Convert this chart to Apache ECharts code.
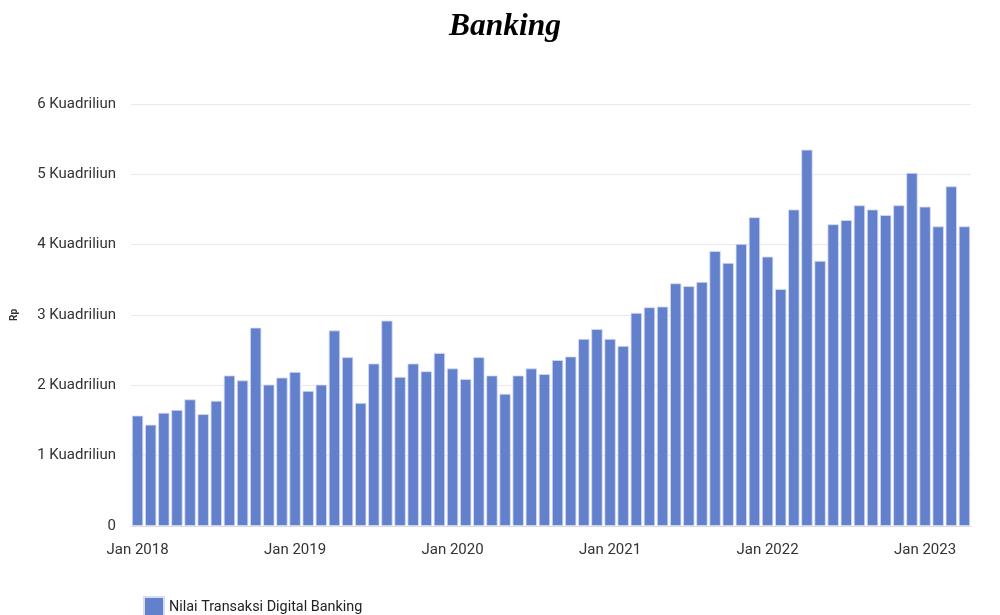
<!DOCTYPE html>
<html><head><meta charset="utf-8">
<script src="https://cdn.jsdelivr.net/npm/echarts@6/dist/echarts.min.js"></script>
<style>html,body{margin:0;padding:0;background:#fff}#c{width:1000px;height:615px}</style>
</head><body><div id="c"></div>
<script>
const monthNames = ['Jan','Feb','Mar','Apr','May','Jun','Jul','Aug','Sep','Oct','Nov','Dec'];
const years = [2018, 2019, 2020, 2021, 2022, 2023];
const categories = [];
years.forEach(y => monthNames.forEach(m => categories.push(m + ' ' + y)));
categories.length = 64; // Jan 2018 - Apr 2023

const values = [
  1.57, 1.44, 1.61, 1.65, 1.80, 1.59, 1.78, 2.14, 2.07, 2.82, 2.01, 2.11,
  2.19, 1.92, 2.01, 2.78, 2.40, 1.75, 2.31, 2.92, 2.12, 2.31, 2.20, 2.46,
  2.24, 2.09, 2.40, 2.14, 1.88, 2.14, 2.24, 2.16, 2.36, 2.41, 2.66, 2.80,
  2.66, 2.56, 3.03, 3.11, 3.12, 3.45, 3.41, 3.47, 3.91, 3.74, 4.01, 4.39,
  3.83, 3.37, 4.50, 5.35, 3.77, 4.29, 4.35, 4.56, 4.50, 4.42, 4.56, 5.02,
  4.54, 4.26, 4.83, 4.26
];

const yTickLabels = ['0', '1 Kuadriliun', '2 Kuadriliun', '3 Kuadriliun', '4 Kuadriliun', '5 Kuadriliun', '6 Kuadriliun'];
const seriesName = 'Nilai Transaksi Digital Banking';
const titleText = 'Banking';

const chart = echarts.init(document.getElementById('c'), null, {renderer: 'canvas'});
chart.setOption({
  animation: false,
  backgroundColor: '#fff',
  title: {
    text: titleText, left: 444, top: 6,
    textStyle: {fontFamily: 'Liberation Serif', fontStyle: 'italic', fontWeight: 'bold', fontSize: 31.5, color: '#000'}
  },
  legend: {
    left: 138, top: 591, itemWidth: 20, itemHeight: 20, itemGap: 6,
    icon: 'rect',
    textStyle: {fontFamily: 'Roboto', fontSize: 14.4, color: '#222'},
    data: [seriesName]
  },
  grid: {left: 131, right: 29, top: 104, bottom: 89},
  xAxis: {
    type: 'category', data: categories, boundaryGap: true,
    axisLine: {show: true, lineStyle: {color: '#ddd'}},
    axisTick: {show: false},
    axisLabel: {
      interval: (i) => i % 12 === 0,
      fontFamily: 'Roboto', fontSize: 15, color: '#333', margin: 17
    }
  },
  yAxis: {
    type: 'value', min: 0, max: 6, interval: 1,
    name: 'Rp', nameLocation: 'middle', nameGap: 112, nameRotate: 90,
    nameTextStyle: {fontFamily: 'Roboto', fontSize: 10, fontWeight: 'bold', color: '#333'},
    axisLine: {show: false}, axisTick: {show: false},
    splitLine: {lineStyle: {color: '#eaeaea', width: 1}},
    axisLabel: {
      formatter: (v) => yTickLabels[Math.round(v)],
      fontFamily: 'Roboto', fontSize: 15, color: '#333', margin: 15
    }
  },
  series: [{
    name: seriesName, type: 'bar', data: values,
    barCategoryGap: '14%',
    itemStyle: {color: '#6380cc', borderColor: '#d6dcf2', borderWidth: 0.8}
  }]
});
</script></body></html>
